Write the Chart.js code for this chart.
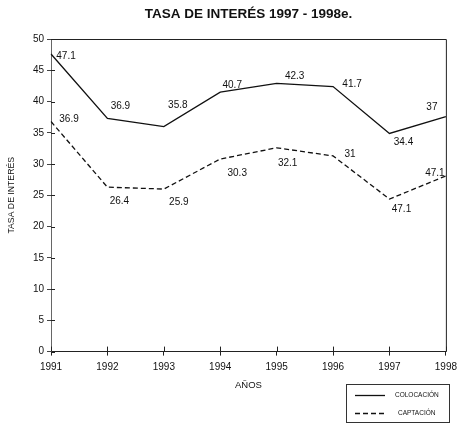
<!DOCTYPE html>
<html>
<head>
<meta charset="utf-8">
<script src="https://cdn.jsdelivr.net/npm/chart.js@4.4.0/dist/chart.umd.min.js"></script>
<style>
  html, body { margin: 0; padding: 0; background: #fff; }
  #wrap { width: 463px; height: 447px; }
</style>
</head>
<body>
<div id="wrap"><canvas id="chart"></canvas></div>
<script>
const years = ['1991', '1992', '1993', '1994', '1995', '1996', '1997', '1998'];
// line positions as drawn
const colocacion = [47.6, 37.3, 36.0, 41.5, 42.9, 42.4, 34.9, 37.6];
const captacion = [36.8, 26.3, 26.0, 30.8, 32.6, 31.3, 24.4, 28.1];
// labels as printed on the chart
const colocacionLabels = ['47.1', '36.9', '35.8', '40.7', '42.3', '41.7', '34.4', '37'];
const captacionLabels = ['36.9', '26.4', '25.9', '30.3', '32.1', '31', '47.1', '47.1'];
const chartTitle = 'TASA DE INTERÉS 1997 - 1998e.';

const REG = "'Liberation Sans', Arial, sans-serif";

// where each value label sits relative to its point
const labelOffsets = [
  [[15, 2], [13, -12], [14, -21], [12, -7], [18, -7], [19, -2], [14, 9], [-14, -9]],
  [[18, -2], [12, 14], [15, 13], [17, 14], [11, 15], [17, -2], [12, 10], [-11, -3]]
];

const extras = {
  id: 'extras',
  afterDatasetsDraw(chart) {
    const { ctx, chartArea: a, scales: { x, y } } = chart;
    ctx.save();
    // title, centred over the plot area
    ctx.fillStyle = '#111';
    ctx.font = 'bold 13.5px ' + REG;
    ctx.textAlign = 'center';
    ctx.textBaseline = 'middle';
    ctx.fillText(chartTitle, (a.left + a.right) / 2, 14);

    // frame top / right
    ctx.strokeStyle = '#222';
    ctx.lineWidth = 1;
    ctx.beginPath();
    ctx.moveTo(a.left, a.top + 0.5);
    ctx.lineTo(a.right + 0.5, a.top + 0.5);
    ctx.lineTo(a.right + 0.5, a.bottom);
    ctx.stroke();
    // inner half of the tick marks
    ctx.beginPath();
    y.ticks.forEach(t => {
      const py = Math.round(y.getPixelForValue(t.value)) + 0.5;
      ctx.moveTo(a.left, py);
      ctx.lineTo(a.left + 4, py);
    });
    x.ticks.forEach((t, i) => {
      const px = Math.round(x.getPixelForValue(i)) + 0.5;
      ctx.moveTo(px, a.bottom);
      ctx.lineTo(px, a.bottom - 5);
    });
    ctx.stroke();

    // value labels
    const texts = [colocacionLabels, captacionLabels];
    ctx.font = '10px ' + REG;
    chart.data.datasets.forEach((ds, di) => {
      const meta = chart.getDatasetMeta(di);
      meta.data.forEach((pt, i) => {
        const [dx, dy] = labelOffsets[di][i];
        ctx.fillText(texts[di][i], pt.x + dx, pt.y + dy);
      });
    });

    // legend box
    const lx = 346, ly = 384, lw = 103, lh = 38;
    ctx.strokeStyle = '#333';
    ctx.lineWidth = 1;
    ctx.strokeRect(lx + 0.5, ly + 0.5, lw, lh);
    ctx.font = '6.5px ' + REG;
    ctx.textAlign = 'left';
    chart.data.datasets.forEach((ds, di) => {
      const ry = ly + 11 + di * 18;
      ctx.strokeStyle = ds.borderColor;
      ctx.lineWidth = ds.borderWidth;
      ctx.setLineDash(ds.borderDash || []);
      ctx.beginPath();
      ctx.moveTo(lx + 9, ry + 0.5);
      ctx.lineTo(lx + 39, ry + 0.5);
      ctx.stroke();
      ctx.setLineDash([]);
      ctx.fillText(ds.label, lx + 49 + di * 3, ry);
    });
    ctx.restore();
  }
};

new Chart(document.getElementById('chart'), {
  type: 'line',
  data: {
    labels: years,
    datasets: [
      {
        label: 'COLOCACIÓN',
        data: colocacion,
        borderColor: '#111',
        borderWidth: 1.3,
        pointRadius: 0,
        tension: 0,
        fill: false
      },
      {
        label: 'CAPTACIÓN',
        data: captacion,
        borderColor: '#111',
        borderWidth: 1.3,
        borderDash: [5, 3],
        pointRadius: 0,
        tension: 0,
        fill: false
      }
    ]
  },
  options: {
    responsive: true,
    maintainAspectRatio: false,
    animation: false,
    layout: { padding: { top: 39, right: 16, bottom: 56, left: 0 } },
    plugins: {
      legend: { display: false },
      tooltip: { enabled: false },
      title: { display: false }
    },
    scales: {
      x: {
        offset: false,
        grid: { display: true, drawOnChartArea: false, drawTicks: true, tickLength: 4, color: '#222' },
        border: { display: true, color: '#222', width: 1 },
        ticks: { color: '#111', font: { family: REG, size: 10 }, padding: 6, maxRotation: 0, autoSkip: false },
        title: { display: true, text: 'AÑOS', color: '#111', font: { family: REG, size: 9.5 }, padding: { top: 0, bottom: 0 } }
      },
      y: {
        min: 0,
        max: 50,
        grid: { display: true, drawOnChartArea: false, drawTicks: true, tickLength: 4, color: '#444' },
        border: { display: true, color: '#666', width: 1 },
        ticks: { stepSize: 5, color: '#111', font: { family: REG, size: 10 }, padding: 3 },
        title: { display: true, text: 'TASA DE INTERÉS', color: '#111', font: { family: REG, size: 8.7 }, padding: { top: 6, bottom: 4 } },
        afterFit(scale) { scale.width = 51; }
      }
    }
  },
  plugins: [extras]
});
</script>
</body>
</html>
